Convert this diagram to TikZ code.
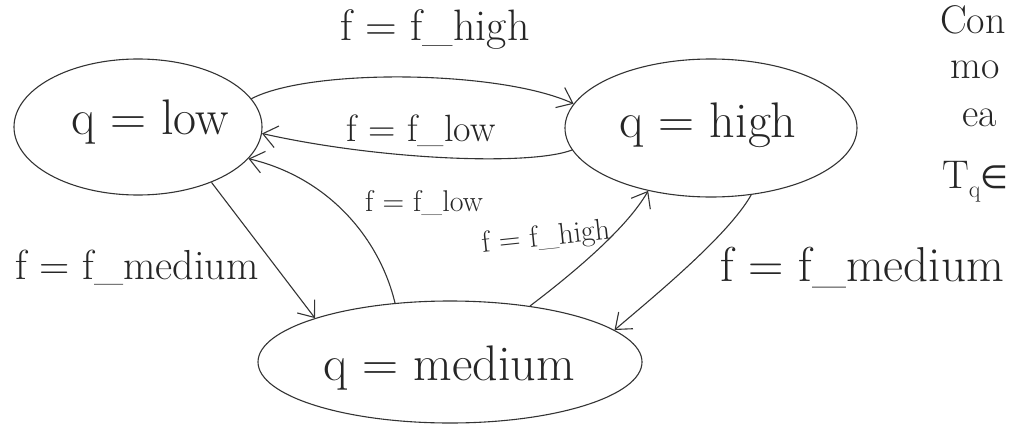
\documentclass[tikz,border=0pt]{standalone}
\usepackage{fontspec}
\newfontfamily\symfont{DejaVu Sans}
\usetikzlibrary{shapes.geometric,arrows.meta}
\begin{document}
\begin{tikzpicture}[x=1pt,y=-1pt,
  state/.style={draw=black!80, line width=1.1pt, ellipse, inner sep=0pt},
  stxt/.style={font=\fontsize{50}{56}\selectfont, text=black!85, inner sep=0pt},
  biglbl/.style={font=\fontsize{42}{48}\selectfont, text=black!85, inner sep=0pt},
  smllbl/.style={font=\fontsize{30}{36}\selectfont, text=black!85, inner sep=0pt},
  note/.style={font=\fontsize{40}{46}\selectfont, text=black!85, inner sep=0pt, anchor=base west},
  edge/.style={draw=black!80, line width=1.1pt, -{Straight Barb[length=14pt,width=22pt,line width=1.1pt]}}]
\useasboundingbox (0,0) rectangle (1017,423);
\clip (0,0) rectangle (1017,423);
% states
\node[state, minimum width=248pt, minimum height=136pt] (low) at (138,127) {};
\node[state, minimum width=292pt, minimum height=138pt] (high) at (711,128) {};
\node[state, minimum width=384pt, minimum height=122pt] (medium) at (450,362) {};
\node[stxt] (lowtxt) at (150,122) {q = low};
\node[stxt] (hightxt) at (708,125) {q = high};
\node[stxt] (medtxt) at (449,368) {q = medium};
% edges
\draw[edge] (low.14) .. controls (310,68) and (500,70) .. (high.170);
\draw[edge] (high.-171) .. controls (530,166) and (380,160) .. (low.-3);
\draw[edge] (medium.133) .. controls (380,240) and (330,178) .. (low.-16);
\draw[edge] (low.-37) -- (medium.162);
\draw[edge] (medium.35) .. controls (580,268) and (628,226) .. (high.-135);
\draw[edge] (high.-59) .. controls (728,236) and (652,298) .. (medium.11);
% labels
\node[biglbl, font=\fontsize{44}{50}\selectfont] (l1) at (435,30) {f = f\_high};
\node[smllbl, font=\fontsize{38}{44}\selectfont] (l2) at (421,131) {f = f\_low};
\node[smllbl] (l3) at (424,203) {f = f\_low};
\node[smllbl, rotate=6] (l5) at (546,238) {f = f\_high};
\node[biglbl, font=\fontsize{42}{48}\selectfont] (l4) at (137,268) {f = f\_medium};
\node[biglbl, font=\fontsize{49}{55}\selectfont] (l6) at (862,268) {f = f\_medium};
% notes (cut off at the right edge in the reference)
\node[note] (n1) at (940,33) {Con};
\node[note] (n2) at (950,78) {mo};
\node[note] (n3) at (962,126) {ea};
\node[note] (n4) at (942,188) {T\raisebox{-9pt}{\fontsize{24}{26}\selectfont q}{\symfont\fontsize{32}{36}\selectfont ∈}};
\end{tikzpicture}
\end{document}
